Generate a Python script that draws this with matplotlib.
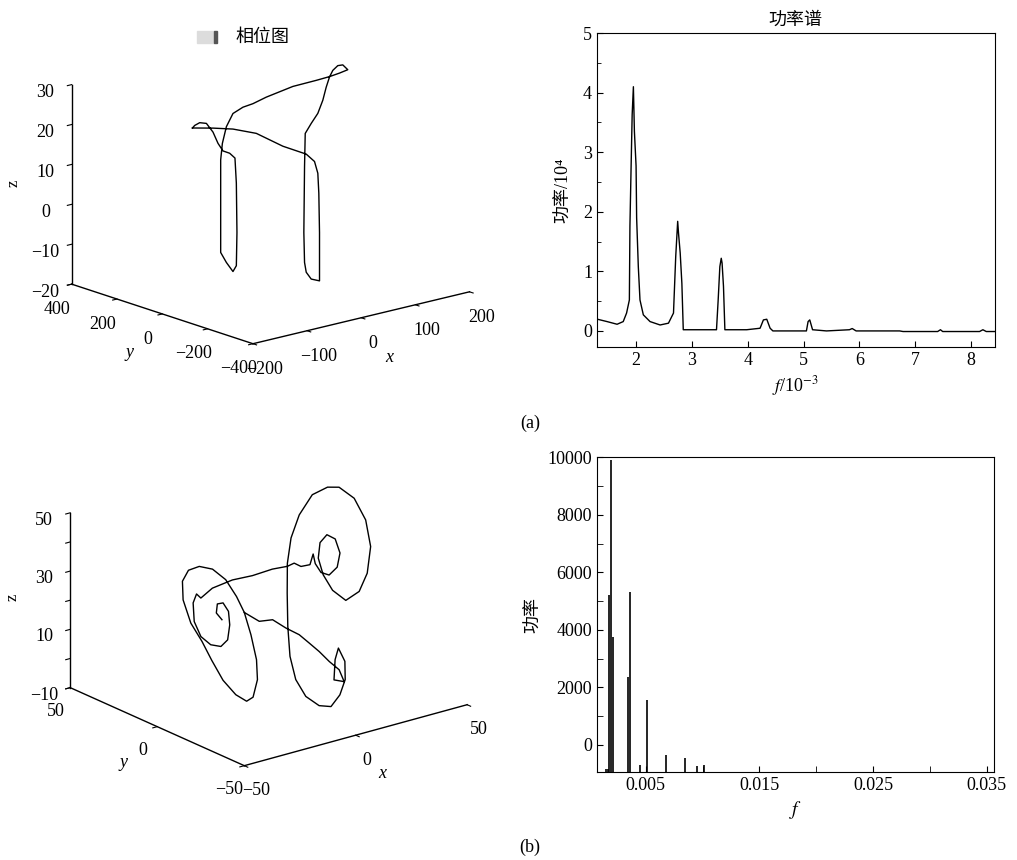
import numpy as np
import matplotlib
matplotlib.use("Agg")
import matplotlib.pyplot as plt
from matplotlib.patches import Rectangle
from matplotlib.ticker import MultipleLocator, FixedLocator

plt.rcParams['font.family'] = ['Liberation Serif', 'Noto Sans CJK SC']
plt.rcParams['mathtext.fontset'] = 'stix'
plt.rcParams['axes.unicode_minus'] = True

# (a) phase trajectory
xa = [-101.8, -75.0, -49.0, -18.6, 16.0, 46.4, 57.2, 61.5, 62.8, 63.7, 63.7, 52.9,
      46.4, 44.2, 43.3, 44.2, 45.1, 52.9, 61.5, 68.0, 72.4, 76.7, 81.0, 87.5, 94.0,
      100.5, 89.7, 76.7, 59.4, 29.0, -5.6, -23.0, -36.0, -49.0, -57.6, -62.8, -65.0,
      -65.0, -65.0, -57.6, -49.0, -44.6, -43.8, -44.6, -46.4, -53.3, -62.0, -68.5,
      -75.0, -83.6, -92.3, -98.8, -101.8]
ya = [-v for v in xa]
za = [21.5, 21.1, 20.5, 19.0, 15.3, 12.9, 10.9, 7.9, 2.9, -7.0, -19.1, -18.5,
      -16.7, -14.2, -6.7, 9.8, 18.1, 20.5, 22.9, 26.1, 29.3, 31.8, 33.4, 34.5, 34.6,
      33.3, 32.6, 31.9, 31.2, 30.1, 27.9, 26.5, 25.8, 24.4, 21.2, 17.1, 13.0,
      3.0, -10.2, -12.8, -15.2, -13.8, -5.5, 6.9, 13.2, 14.5, 15.2, 17.2,
      20.1, 22.4, 22.7, 22.1, 21.5]

# (a) power spectrum
fa = [1.31, 1.48, 1.66, 1.77, 1.83, 1.88, 1.89, 1.91, 1.93, 1.952, 1.97, 2.0, 2.01,
      2.04, 2.07, 2.13, 2.25, 2.43, 2.58, 2.67, 2.71, 2.745, 2.76, 2.79, 2.82, 2.845,
      2.97, 3.44, 3.47, 3.50, 3.525, 3.54, 3.565, 3.59, 3.98, 4.22, 4.28, 4.34, 4.40,
      4.45, 5.05, 5.08, 5.11, 5.16, 5.41, 5.82, 5.87, 5.94, 6.72, 6.78, 7.40, 7.45,
      7.49, 8.15, 8.21, 8.27, 8.42]
pa = [0.196, 0.157, 0.112, 0.157, 0.30, 0.52, 1.76, 2.71, 3.63, 4.10, 3.35, 2.77, 1.9,
      1.08, 0.52, 0.27, 0.157, 0.10, 0.13, 0.30, 1.25, 1.84, 1.64, 1.31, 0.80, 0.02,
      0.02, 0.02, 0.52, 1.08, 1.22, 1.14, 0.75, 0.02, 0.02, 0.045, 0.185, 0.196, 0.045,
      0.0, 0.0, 0.157, 0.185, 0.02, 0.0, 0.02, 0.04, 0.0, 0.0, -0.01, -0.01, 0.02,
      -0.01, -0.01, 0.02, -0.01, -0.01]

# (b) phase trajectory
xb = [-14.4, -14.5, -12.4, -10.7, -11.0, -13.4, -17.0, -20.1, -22.4, -23.3, -22.0,
      -18.5, -15.8, -15.5, -10.5, -3.6, 2.5, 9.0, 13.5, 15.9, 17.0, 19.7, 22.7, 21.3,
      21.0, 22.6, 26.3, 29.9, 31.5, 30.2, 26.8, 23.2, 21.1, 20.4, 21.8, 27.1, 32.9,
      39.2, 43.3, 44.7, 43.0, 40.0, 34.5, 27.0, 20.2, 14.1, 8.0, 1.4, -4.1, -7.3,
      -8.1, -6.5, -3.6, 1.1, 5.6, 9.2, 10.2, 7.0, 2.6, 4.9, 6.0, 5.1, 4.5, 3.6, 2.7,
      0.6, -1.2, -5.0, -7.1, -9.9, -13.5, -17.3, -22.0, -24.5, -26.0, -26.4, -25.3,
      -24.0, -23.2, -20.5, -16.9, -13.1, -9.5, -6.6, -5.3, -5.9, -7.1]
yb = [8.4, 11.5, 13.6, 12.5, 9.0, 5.2, 1.8, 1.7, 4.6, 9.1, 14.6, 19.7, 21.2, 19.1,
      18.9, 16.2, 12.5, 9.4, 6.5, 5.7, 3.2, 1.5, 3.5, 0.5, -3.2, -5.8, -5.7, -2.7, 2.1,
      5.2, 4.8, 1.2, -4.3, -10.6, -16.4, -17.3, -14.5, -8.4, -0.3, 8.1, 14.6, 17.4,
      19.1, 17.0, 13.0, 7.3, -0.4, -9.2, -17.5, -24.9, -31.7, -37.3, -40.4, -39.5,
      -36.8, -32.0, -27.0, -29.2, -34.2, -37.1, -32.8, -28.3, -23.3, -18.6, -14.1,
      -9.2, -3.8, -1.0, 4.9, -2.5, -10.3, -15.7, -19.2, -18.7, -14.4, -7.6, 0.3, 7.6,
      15.0, 22.9, 27.9, 29.3, 27.7, 23.8, 17.9, 10.9, 4.9]
zb = [17.0, 18.5, 20.6, 20.9, 19.0, 15.9, 12.4, 10.8, 11.1, 12.9, 16.3, 20.6, 22.7,
      21.8, 24.2, 26.3, 27.5, 29.2, 30.0, 30.8, 30.1, 30.6, 33.1, 30.9, 28.9, 28.4,
      30.3, 33.6, 36.8, 37.7, 35.8, 32.2, 28.4, 24.9, 22.7, 24.9, 29.2, 35.4, 41.5,
      46.4, 48.8, 48.7, 46.8, 42.0, 36.6, 30.7, 23.8, 16.1, 9.2, 3.9, 0.1, -1.9, -2.0,
      0.8, 4.4, 8.6, 11.6, 8.9, 4.2, 3.9, 6.6, 8.4, 10.6, 12.5, 14.3, 15.7, 17.5,
      17.0, 18.9, 13.8, 8.1, 3.5, -0.6, -1.6, -0.2, 3.0, 7.5, 11.8, 15.9, 21.2, 25.5,
      28.1, 29.1, 28.6, 26.3, 22.5, 18.9]

# (b) power spectrum lines
fb = [0.00153, 0.0017, 0.0018, 0.00196, 0.0021, 0.00347, 0.0036, 0.00451, 0.00514,
      0.0068, 0.00844, 0.0095, 0.0101]
pb = [-820, -820, 5200, 9890, 3770, 2370, 5330, -700, 1560, -350, -450, -730, -700]


def style_3d(ax):
    for axis in (ax.xaxis, ax.yaxis, ax.zaxis):
        axis.pane.fill = False
        axis.pane.set_edgecolor((1, 1, 1, 0))
        axis.line.set_color('black')
        axis.line.set_linewidth(1.0)
        axis._axinfo['tick']['inward_factor'] = 0.25
        axis._axinfo['tick']['outward_factor'] = 0.0
    ax.grid(False)
    ax.tick_params(labelsize=13, colors='black', pad=2)
    ax.zaxis.set_rotate_label(False)


fig = plt.figure(figsize=(10.17, 8.6), dpi=100)

# top-left 3D
ax1 = fig.add_axes([0.0107, 0.5398, 0.5, 0.47], projection='3d', proj_type='ortho')
ax1.plot(xa, ya, za, color='black', lw=1.0)
ax1.set_xlim(-200, 200)
ax1.set_ylim(-400, 400)
ax1.set_zlim(-20, 30)
ax1.set_xticks([-200, -100, 0, 100, 200])
ax1.set_yticks([-400, -200, 0, 200, 400])
ax1.set_zticks([-20, -10, 0, 10, 20, 30])
ax1.view_init(elev=16.3, azim=-130.5)
ax1.set_box_aspect((1, 0.98, 0.73), zoom=1.08)
style_3d(ax1)
ax1.set_xlabel('x', fontstyle='italic', fontsize=13, labelpad=2)
ax1.set_ylabel('y', fontstyle='italic', fontsize=13, labelpad=2)
ax1.set_zlabel('z', fontsize=12, labelpad=1, rotation=90)

# bottom-left 3D
ax3 = fig.add_axes([0.0088, 0.0508, 0.5, 0.47], projection='3d', proj_type='ortho')
ax3.plot(xb, yb, zb, color='black', lw=1.0)
ax3.set_xlim(-50, 50)
ax3.set_ylim(-50, 50)
ax3.set_zlim(-10, 50)
ax3.set_xticks([-50, 0, 50])
ax3.set_yticks([-50, 0, 50])
ax3.set_zticks([-10, 0, 10, 20, 30, 40, 50])
ax3.set_zticklabels(['\u221210', '', '10', '', '30', '', '50'])
ax3.view_init(elev=20.5, azim=-128)
ax3.set_box_aspect((1, 1, 0.66), zoom=1.06)
style_3d(ax3)
ax3.set_xlabel('x', fontstyle='italic', fontsize=13, labelpad=2)
ax3.set_ylabel('y', fontstyle='italic', fontsize=13, labelpad=2)
ax3.set_zlabel('z', fontsize=12, labelpad=1, rotation=90)

# top-right spectrum
ax2 = fig.add_axes([0.587, 0.5965, 0.391, 0.365])
ax2.plot(fa, pa, color='black', lw=1.0)
ax2.set_xlim(1.3, 8.42)
ax2.set_ylim(-0.27, 5.0)
ax2.xaxis.set_major_locator(MultipleLocator(1))
ax2.yaxis.set_major_locator(MultipleLocator(1))
ax2.yaxis.set_minor_locator(MultipleLocator(0.5))
ax2.tick_params(direction='in', labelsize=13, length=4)
ax2.tick_params(which='minor', direction='in', length=3)
ax2.set_title('功率谱', fontsize=13, pad=6)
ax2.set_xlabel('$f$/10$^{-3}$', fontsize=13)
ax2.set_ylabel('功率/10\u2074', fontsize=13, labelpad=8)

# bottom-right spectrum
ax4 = fig.add_axes([0.587, 0.1023, 0.390, 0.366])
ax4.vlines(fb, -940, pb, color='black', lw=1.2)
ax4.set_xlim(0.0007, 0.0356)
ax4.set_ylim(-940, 10000)
ax4.xaxis.set_major_locator(FixedLocator([0.005, 0.015, 0.025, 0.035]))
ax4.xaxis.set_minor_locator(MultipleLocator(0.005))
ax4.xaxis.set_major_formatter(lambda v, p: f'{v:.3f}')
ax4.yaxis.set_major_locator(MultipleLocator(2000))
ax4.yaxis.set_minor_locator(MultipleLocator(1000))
ax4.tick_params(direction='in', labelsize=13, length=4)
ax4.tick_params(which='minor', direction='in', length=4)
ax4.set_xlabel('$f$', fontsize=14)
ax4.set_ylabel('功率', fontsize=13)

# panel marks and phase-plot title
fig.text(530 / 1017, 1 - 423 / 860, '(a)', fontsize=13, ha='center', va='center')
fig.text(530 / 1017, 1 - 847 / 860, '(b)', fontsize=13, ha='center', va='center')
fig.text(262 / 1017, 1 - 37 / 860, '相位图', fontsize=13, ha='center', va='center')
fig.patches.append(Rectangle((197 / 1017, 1 - 43 / 860), 17 / 1017, 12 / 860,
                             transform=fig.transFigure, color='#dcdcdc', zorder=3))
fig.patches.append(Rectangle((214 / 1017, 1 - 43 / 860), 3 / 1017, 12 / 860,
                             transform=fig.transFigure, color='#555555', zorder=3))

fig.savefig('out.png', dpi=100)
